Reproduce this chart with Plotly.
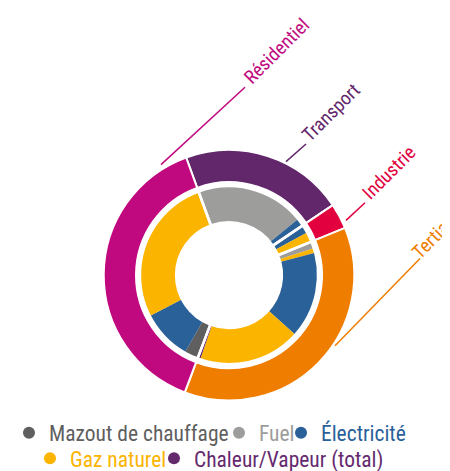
import plotly.graph_objects as go

# ---- data (shares in %) ----
sectors = ["Transport", "Industrie", "Tertiaire", "Résidentiel"]
sector_values = [21.1, 3.3, 36.9, 38.7]
sector_colors = ["#62266b", "#e2003e", "#ef7d00", "#c0097f"]

inner_sector = ["Transport", "Transport",
                "Industrie", "Industrie",
                "Tertiaire", "Tertiaire", "Tertiaire", "Tertiaire", "Tertiaire",
                "Résidentiel", "Résidentiel", "Résidentiel"]
inner_energy = ["Fuel", "Électricité",
                "Électricité", "Gaz naturel",
                "Fuel", "Gaz naturel", "Électricité", "Gaz naturel", "Chaleur/Vapeur (total)",
                "Mazout de chauffage", "Électricité", "Gaz naturel"]
inner_values = [19.7, 1.4,
                1.5, 1.8,
                1.25, 0.85, 15.7, 18.6, 0.5,
                2.5, 9.2, 27.0]

energies = ["Mazout de chauffage", "Fuel", "Électricité", "Gaz naturel", "Chaleur/Vapeur (total)"]
energy_colors = ["#5f5f5f", "#9d9d9c", "#2a6199", "#fbb400", "#652a6e"]

W, H = 450, 471
CX, CY = 221, 273
R_OUT, R_OUT_IN = 128, 95
R_IN, R_IN_HOLE = 91, 54

def dom(r):
    return dict(x=[(CX - r) / W, (CX + r) / W],
                y=[1 - (CY + r) / H, 1 - (CY - r) / H])

ecol = dict(zip(energies, energy_colors))
inner_colors = [ecol[e] for e in inner_energy]
# unique labels so that the pie does not merge slices
inner_labels = [f"{s} – {e} ({i + 1})" for i, (s, e) in enumerate(zip(inner_sector, inner_energy))]

fig = go.Figure()
fig.add_trace(go.Pie(labels=sectors, values=sector_values, sort=False,
                     direction="clockwise", rotation=-20, hole=R_OUT_IN / R_OUT,
                     domain=dom(R_OUT), textinfo="none", showlegend=False,
                     marker=dict(colors=sector_colors, line=dict(color="white", width=2))))
fig.add_trace(go.Pie(labels=inner_labels, values=inner_values, sort=False,
                     direction="clockwise", rotation=-20, hole=R_IN_HOLE / R_IN,
                     domain=dom(R_IN), textinfo="none", showlegend=False,
                     marker=dict(colors=inner_colors, line=dict(color="white", width=0))))
# white separators between sectors inside the inner ring
fig.add_trace(go.Pie(labels=sectors, values=sector_values, sort=False,
                     direction="clockwise", rotation=-20, hole=R_IN_HOLE / R_IN,
                     domain=dom(R_IN), textinfo="none", showlegend=False, hoverinfo="skip",
                     marker=dict(colors=["rgba(0,0,0,0)"] * 4, line=dict(color="white", width=2.5))))

FONT = "Roboto Condensed, Liberation Sans Narrow, Roboto, sans-serif"
LEG_FONT = 21.5

# one legend per entry so each sits where the reference puts it
# (symbol centre x in px, row centre y in px)
legend_spots = [(21, 434), (231, 434), (293, 434), (42, 460), (166, 460)]
legend_layout = {}
for i, (e, c, (dx, ry)) in enumerate(zip(energies, energy_colors, legend_spots)):
    key = "legend" if i == 0 else f"legend{i + 1}"
    fig.add_trace(go.Scatter(x=[None], y=[None], mode="markers",
                             marker=dict(color=c, size=12, symbol="circle"),
                             name=f'<span style="color:{c}">{e}</span>', legend=key))
    legend_layout[key] = dict(orientation="h", x=(dx - 20) / W, xanchor="left",
                              y=1 - ry / H, yanchor="middle", borderwidth=0,
                              font=dict(family=FONT, size=LEG_FONT), itemwidth=30,
                              bgcolor="rgba(0,0,0,0)")

# sector labels with leader lines (pixel positions -> paper)
labels_pos = [
    ("Résidentiel", "#c0097f", (153, 160), (237, 81), (268, 44)),
    ("Transport", "#62266b", (278, 157), (298, 139), (323, 107)),
    ("Industrie", "#e2003e", (338, 217), (357, 199), (381, 168)),
    ("Tertiaire", "#ef7d00", (327, 345), (412, 256), (429, 230)),
]
shapes, annotations = [], []
for txt, col, p0, p1, c in labels_pos:
    shapes.append(dict(type="line", xref="paper", yref="paper",
                       x0=p0[0] / W, y0=1 - p0[1] / H, x1=p1[0] / W, y1=1 - p1[1] / H,
                       line=dict(color=col, width=1.5)))
    annotations.append(dict(text=txt, xref="paper", yref="paper",
                            x=c[0] / W, y=1 - c[1] / H, xanchor="center", yanchor="middle",
                            textangle=-45, showarrow=False,
                            font=dict(family=FONT, size=19, color=col)))

fig.update_layout(
    width=W, height=H, margin=dict(l=0, r=0, t=0, b=0),
    paper_bgcolor="white", plot_bgcolor="white",
    xaxis=dict(visible=False), yaxis=dict(visible=False),
    shapes=shapes, annotations=annotations,
    font=dict(family=FONT, size=LEG_FONT, color="#5f5f5f"),
    **legend_layout,
)

fig.write_html("out.html")
